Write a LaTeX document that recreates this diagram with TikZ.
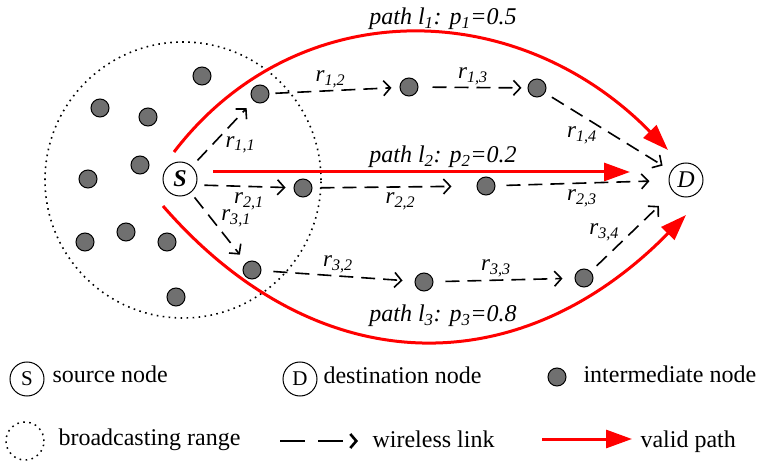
\documentclass[tikz,border=0pt]{standalone}
\usepackage{fontspec}
\setmainfont{Liberation Serif}
\newfontfamily\timesfont{Liberation Serif}
\usepackage{xcolor}
\definecolor{relayGray}{RGB}{112,112,112}
\definecolor{pathRed}{RGB}{255,0,0}
\usepackage{tikz}
\usetikzlibrary{arrows.meta,positioning}
\newcommand{\bigfont}{\timesfont\fontsize{24}{28}\selectfont}
\newcommand{\labfont}{\timesfont\fontsize{23}{27}\selectfont}
\tikzstyle{endnode}=[draw, circle, minimum size=34pt, inner sep=0pt, line width=1pt, font=\bigfont]
\tikzstyle{relay}=[draw, circle, fill=relayGray, minimum size=18pt, inner sep=0pt, line width=1pt]
\tikzstyle{wlink}=[-{Straight Barb[length=7pt,width=15pt]}, line width=1.6pt, dash pattern=on 14pt off 8pt, shorten <=8pt, shorten >=10pt]
\tikzstyle{validpath}=[-{Triangle[length=26pt,width=18pt]}, line width=3pt, color=pathRed]
\tikzstyle{rlabel}=[font=\labfont\itshape, inner sep=2pt]
\tikzstyle{pathlabel}=[font=\bigfont\itshape, anchor=base]
\tikzstyle{legendtext}=[font=\bigfont, anchor=base west]
\tikzstyle{bcastrange}=[draw, circle, inner sep=0pt, dash pattern=on 1.6pt off 4.4pt, line width=1.6pt]

\begin{document}
\begin{tikzpicture}[x=1pt, y=-1pt]
    \useasboundingbox (0,0) rectangle (764,465);

    % Broadcasting range of S and the other neighbours
    \node[bcastrange, minimum size=276pt] (range) at (183,180) {};
    \foreach \x/\y [count=\k] in {202/76,100/108,148/117,140/165,88/179,85/242,126/232,167/242,176/297} {
      \node[relay] (nb\k) at (\x,\y) {};
    }

    % Source and destination
    \node[endnode, font=\bigfont\bfseries\itshape] (S) at (180,179) {S};
    \node[endnode, font=\bigfont\itshape] (D) at (686,180) {D};

    % Relays on the three paths
    \node[relay] (n11) at (260,94) {};
    \node[relay] (n12) at (409,87) {};
    \node[relay] (n13) at (537,88) {};
    \node[relay] (n21) at (303,188) {};
    \node[relay] (n22) at (486,186) {};
    \node[relay] (n31) at (252,270) {};
    \node[relay] (n32) at (424,282) {};
    \node[relay] (n33) at (584,278) {};

    % Wireless links
    \draw[wlink] (S) -- (n11) node[rlabel, midway, below right] {r\textsubscript{1,1}};
    \draw[wlink, shorten <=6pt, shorten >=8pt] (n11) -- (n12) node[rlabel, midway, above, xshift=-4pt] {r\textsubscript{1,2}};
    \draw[wlink, shorten <=14pt, shorten >=6pt] (n12) -- (n13) node[rlabel, midway, above] {r\textsubscript{1,3}};
    \draw[wlink] (n13) -- (D) node[rlabel, pos=0.4, below left, xshift=4pt] {r\textsubscript{1,4}};

    \draw[wlink, shorten >=8pt] (S.-20) -- (n21) node[rlabel, midway, below=4pt, xshift=4pt] {r\textsubscript{2,1}};
    \draw[wlink, shorten >=25pt] (n21) -- (n22) node[rlabel, midway, below=3pt, xshift=6pt] {r\textsubscript{2,2}};
    \draw[wlink, shorten <=11pt, shorten >=19pt] (n22) -- (D) node[rlabel, midway, below=4pt] {r\textsubscript{2,3}};

    \draw[wlink, shorten <=6pt] (S) -- (n31) node[rlabel, midway, above right, yshift=-2pt] {r\textsubscript{3,1}};
    \draw[wlink, shorten <=12pt, shorten >=12pt] (n31) -- (n32) node[rlabel, midway, above] {r\textsubscript{3,2}};
    \draw[wlink, shorten <=12pt, shorten >=12pt] (n32) -- (n33) node[rlabel, midway, above, xshift=-8pt] {r\textsubscript{3,3}};
    \draw[wlink, shorten >=20pt] (n33) -- (D) node[rlabel, pos=0.35, above left, xshift=2pt] {r\textsubscript{3,4}};

    % Valid paths from S to D
    \coordinate (l1s) at (174,152);
    \coordinate (l1e) at (668,150);
    \coordinate (l2s) at (213,172);
    \coordinate (l2e) at (630,172);
    \coordinate (l3s) at (163,206);
    \coordinate (l3e) at (686,215);
    \draw[validpath] (l1s) .. controls (295,-6) and (515,-6) .. (l1e);
    \draw[validpath] (l2s) -- (l2e);
    \draw[validpath] (l3s) .. controls (318,384) and (520,384) .. (l3e);
    \node[pathlabel] (lab1) at (443,25) {path l\textsubscript{1}: p\textsubscript{1}=0.5};
    \node[pathlabel] (lab2) at (443,163) {path l\textsubscript{2}: p\textsubscript{2}=0.2};
    \node[pathlabel] (lab3) at (443,322) {path l\textsubscript{3}: p\textsubscript{3}=0.8};

    % Legend
    \node[endnode, font=\timesfont\fontsize{21}{24}\selectfont] (lgS) at (27,379) {S};
    \node[legendtext] (lgStxt) at (49,383) {source node};
    \node[endnode, font=\timesfont\fontsize{21}{24}\selectfont] (lgD) at (300,379) {D};
    \node[legendtext] (lgDtxt) at (320,384) {destination node};
    \node[relay] (lgR) at (557,377) {};
    \node[legendtext] (lgRtxt) at (580,383) {intermediate node};

    \node[bcastrange, minimum size=38pt, line width=1.5pt] (lgB) at (25,441) {};
    \node[legendtext] (lgBtxt) at (55,446) {broadcasting range};
    \coordinate (lgW1) at (280,441);
    \coordinate (lgW2) at (358,441);
    \draw[wlink, -{Straight Barb[length=6pt,width=14pt,line width=2.6pt]}, line width=2.4pt, dash pattern=on 25pt off 13pt, shorten <=0pt, shorten >=0pt] (lgW1) -- (lgW2);
    \node[legendtext] (lgWtxt) at (369,447) {wireless link};
    \coordinate (lgV1) at (542,439);
    \coordinate (lgV2) at (632,439);
    \draw[validpath] (lgV1) -- (lgV2);
    \node[legendtext] (lgVtxt) at (637,447) {valid path};
\end{tikzpicture}
\end{document}
